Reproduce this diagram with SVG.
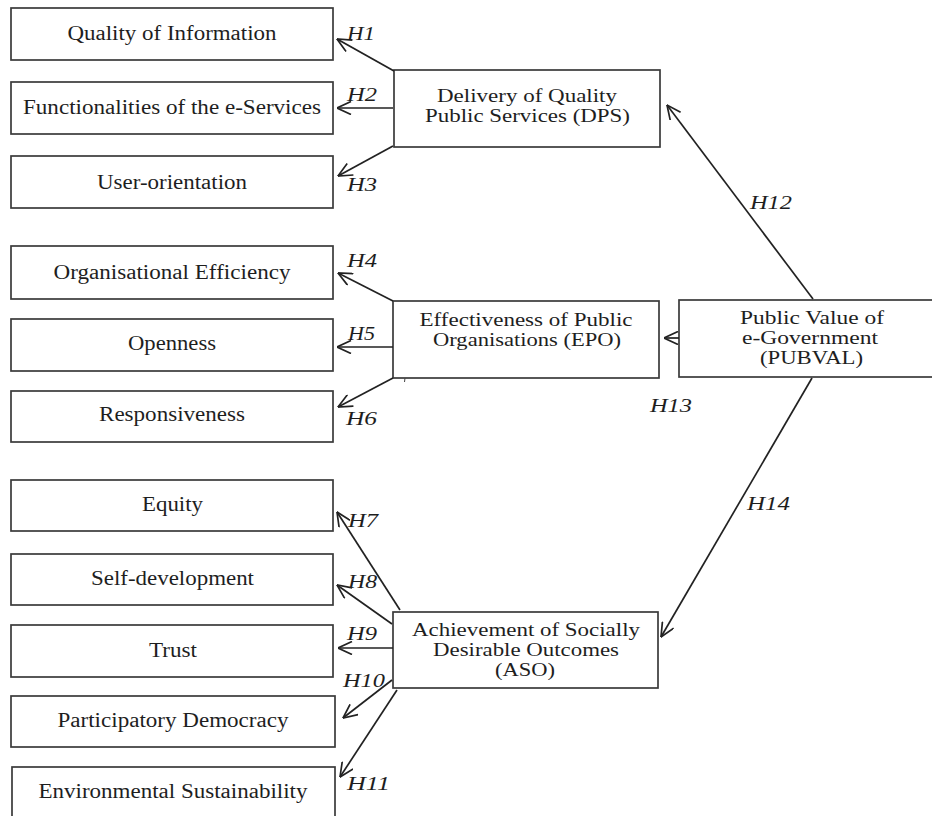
<svg xmlns="http://www.w3.org/2000/svg" width="932" height="816" viewBox="0 0 932 816">
  <style>
    .box { fill: #ffffff; stroke: #3a3a3a; stroke-width: 1.7; }
    .lbl { font-family: "Liberation Serif", "Times New Roman", serif; font-size: 20px; fill: #1e1e1e; text-anchor: middle; }
    .con { font-size: 19px; }
    .hyp { font-family: "Liberation Serif", "Times New Roman", serif; font-size: 18px; font-style: italic; fill: #1e1e1e; }
    .link { fill: none; stroke: #222222; stroke-width: 1.7; marker-end: url(#open-arrow); }
  </style>
  <defs>
    <marker id="open-arrow" viewBox="0 0 15 14" refX="14.5" refY="7" markerWidth="15" markerHeight="14" markerUnits="userSpaceOnUse" orient="auto">
      <path d="M0.5,0.5 L14.5,7 L0.5,13.5" fill="none" stroke="#222222" stroke-width="1.7" stroke-linejoin="miter"/>
    </marker>
  </defs>
  <rect width="932" height="816" fill="#ffffff"/>

  <!-- DPS indicators -->
  <g id="quality-of-information">
    <rect class="box" x="11" y="8" width="322" height="52"/>
    <text class="lbl" x="172" y="40" textLength="209" lengthAdjust="spacingAndGlyphs">Quality of Information</text>
  </g>
  <g id="functionalities">
    <rect class="box" x="11" y="82" width="322" height="52"/>
    <text class="lbl" x="172" y="114" textLength="298" lengthAdjust="spacingAndGlyphs">Functionalities of the e-Services</text>
  </g>
  <g id="user-orientation">
    <rect class="box" x="11" y="156" width="322" height="52"/>
    <text class="lbl" x="172" y="189" textLength="150" lengthAdjust="spacingAndGlyphs">User-orientation</text>
  </g>

  <!-- EPO indicators -->
  <g id="organisational-efficiency">
    <rect class="box" x="11" y="246" width="322" height="53"/>
    <text class="lbl" x="172" y="279" textLength="237" lengthAdjust="spacingAndGlyphs">Organisational Efficiency</text>
  </g>
  <g id="openness">
    <rect class="box" x="11" y="319" width="322" height="52"/>
    <text class="lbl" x="172" y="350" textLength="88" lengthAdjust="spacingAndGlyphs">Openness</text>
  </g>
  <g id="responsiveness">
    <rect class="box" x="11" y="391" width="322" height="51"/>
    <text class="lbl" x="172" y="421" textLength="146" lengthAdjust="spacingAndGlyphs">Responsiveness</text>
  </g>

  <!-- ASO indicators -->
  <g id="equity">
    <rect class="box" x="11" y="480" width="322" height="51"/>
    <text class="lbl" x="172.5" y="511" textLength="61" lengthAdjust="spacingAndGlyphs">Equity</text>
  </g>
  <g id="self-development">
    <rect class="box" x="11" y="554" width="322" height="51"/>
    <text class="lbl" x="172.5" y="585" textLength="163" lengthAdjust="spacingAndGlyphs">Self-development</text>
  </g>
  <g id="trust">
    <rect class="box" x="11" y="625" width="322" height="52"/>
    <text class="lbl" x="173" y="657" textLength="48" lengthAdjust="spacingAndGlyphs">Trust</text>
  </g>
  <g id="participatory-democracy">
    <rect class="box" x="11" y="696" width="324" height="51"/>
    <text class="lbl" x="173" y="727" textLength="231" lengthAdjust="spacingAndGlyphs">Participatory Democracy</text>
  </g>
  <g id="environmental-sustainability">
    <rect class="box" x="12" y="767" width="323" height="60"/>
    <text class="lbl" x="173" y="798" textLength="269" lengthAdjust="spacingAndGlyphs">Environmental Sustainability</text>
  </g>

  <!-- Constructs -->
  <g id="dps">
    <rect class="box" x="394" y="70" width="266" height="77"/>
    <text class="lbl con" x="527" y="102" textLength="180" lengthAdjust="spacingAndGlyphs">Delivery of Quality</text>
    <text class="lbl con" x="527.5" y="122" textLength="205" lengthAdjust="spacingAndGlyphs">Public Services (DPS)</text>
  </g>
  <g id="epo">
    <rect class="box" x="393" y="301" width="266" height="77"/>
    <text class="lbl con" x="526" y="326" textLength="213" lengthAdjust="spacingAndGlyphs">Effectiveness of Public</text>
    <text class="lbl con" x="527" y="346" textLength="188" lengthAdjust="spacingAndGlyphs">Organisations (EPO)</text>
  </g>
  <g id="aso">
    <rect class="box" x="393" y="612" width="265" height="76"/>
    <text class="lbl con" x="526" y="636" textLength="228" lengthAdjust="spacingAndGlyphs">Achievement of Socially</text>
    <text class="lbl con" x="526" y="656" textLength="186" lengthAdjust="spacingAndGlyphs">Desirable Outcomes</text>
    <text class="lbl con" x="525" y="676" textLength="60" lengthAdjust="spacingAndGlyphs">(ASO)</text>
  </g>
  <g id="pubval">
    <rect class="box" x="679" y="300" width="266" height="77"/>
    <text class="lbl con" x="812" y="324" textLength="144" lengthAdjust="spacingAndGlyphs">Public Value of</text>
    <text class="lbl con" x="810" y="344" textLength="136" lengthAdjust="spacingAndGlyphs">e-Government</text>
    <text class="lbl con" x="811.5" y="364" textLength="103" lengthAdjust="spacingAndGlyphs">(PUBVAL)</text>
  </g>

  <!-- Hypothesised paths -->
  <g id="connectors">
    <line class="link" x1="394" y1="71" x2="337" y2="39"/>
    <line class="link" x1="393" y1="108" x2="337" y2="108"/>
    <line class="link" x1="393" y1="146" x2="338" y2="176"/>
    <line class="link" x1="393" y1="301" x2="338" y2="273"/>
    <line class="link" x1="393" y1="347" x2="337" y2="347"/>
    <line class="link" x1="393" y1="378" x2="338" y2="407"/>
    <line x1="405" y1="378" x2="404.5" y2="382" stroke="#444444" stroke-width="1"/>
    <line class="link" x1="400" y1="610" x2="337" y2="512"/>
    <line class="link" x1="392" y1="624" x2="337" y2="585"/>
    <line class="link" x1="393" y1="648" x2="338" y2="648"/>
    <line class="link" x1="392" y1="680" x2="343" y2="718"/>
    <line class="link" x1="397" y1="690" x2="340" y2="777"/>
    <line class="link" x1="813" y1="299" x2="667" y2="105"/>
    <line class="link" x1="679" y1="338" x2="664" y2="338"/>
    <line class="link" x1="812" y1="378" x2="661" y2="637"/>
  </g>

  <!-- Hypothesis labels -->
  <g id="hypothesis-labels">
    <text class="hyp" x="347" y="40" textLength="28" lengthAdjust="spacingAndGlyphs">H1</text>
    <text class="hyp" x="347" y="101" textLength="30" lengthAdjust="spacingAndGlyphs">H2</text>
    <text class="hyp" x="347" y="191" textLength="30" lengthAdjust="spacingAndGlyphs">H3</text>
    <text class="hyp" x="347" y="267" textLength="30" lengthAdjust="spacingAndGlyphs">H4</text>
    <text class="hyp" x="348" y="340" textLength="27" lengthAdjust="spacingAndGlyphs">H5</text>
    <text class="hyp" x="346" y="425" textLength="31" lengthAdjust="spacingAndGlyphs">H6</text>
    <text class="hyp" x="348" y="527" textLength="30" lengthAdjust="spacingAndGlyphs">H7</text>
    <text class="hyp" x="348" y="588" textLength="29" lengthAdjust="spacingAndGlyphs">H8</text>
    <text class="hyp" x="347" y="640" textLength="30" lengthAdjust="spacingAndGlyphs">H9</text>
    <text class="hyp" x="343" y="687" textLength="42" lengthAdjust="spacingAndGlyphs">H10</text>
    <text class="hyp" x="347" y="790" textLength="43" lengthAdjust="spacingAndGlyphs">H11</text>
    <text class="hyp" x="750" y="209" textLength="42" lengthAdjust="spacingAndGlyphs">H12</text>
    <text class="hyp" x="650" y="412" textLength="42" lengthAdjust="spacingAndGlyphs">H13</text>
    <text class="hyp" x="747" y="510" textLength="43" lengthAdjust="spacingAndGlyphs">H14</text>
  </g>
</svg>
